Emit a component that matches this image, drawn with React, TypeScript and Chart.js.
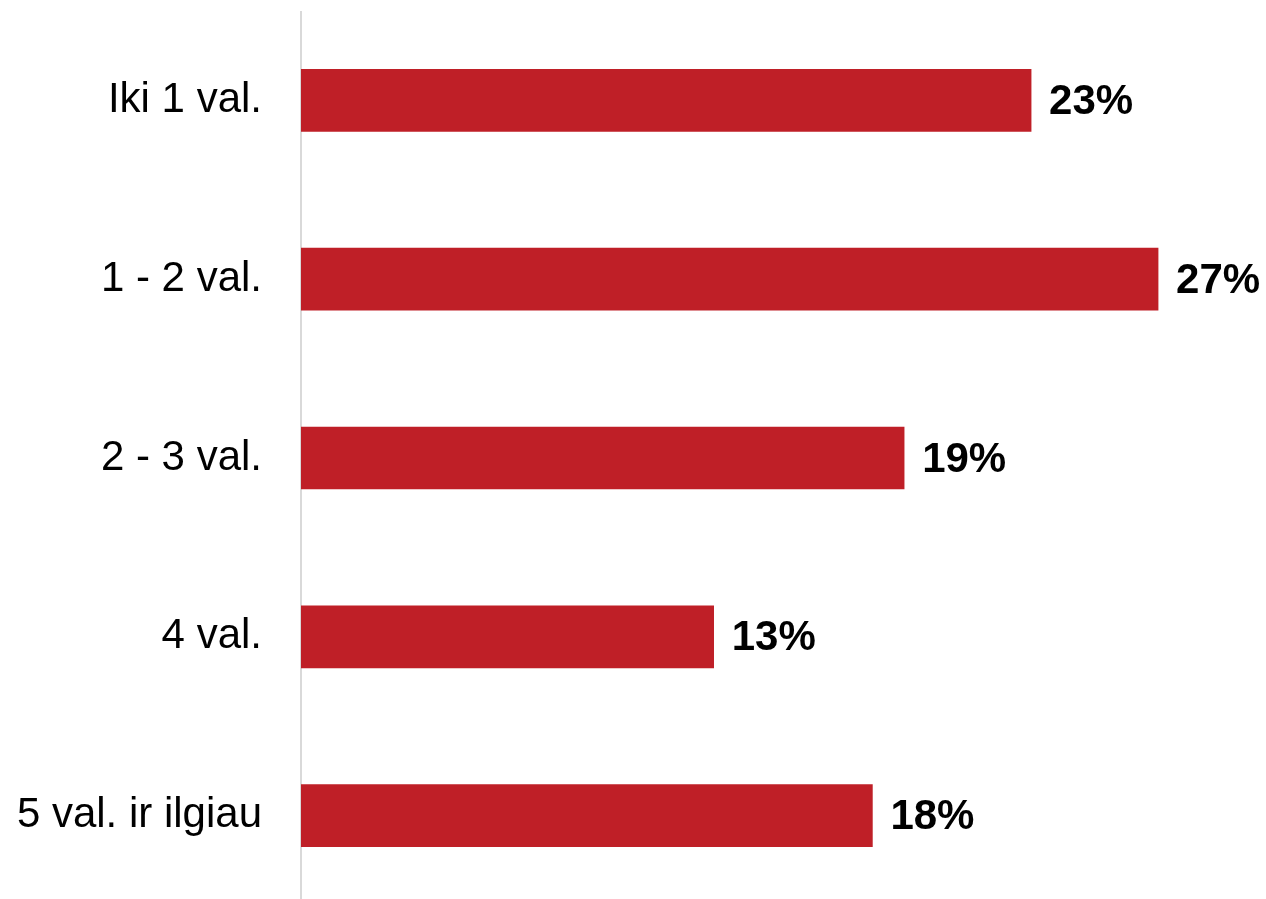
import React, { useEffect, useRef } from "react";
import { Chart, registerables } from "chart.js";

Chart.register(...registerables);

const categories = ["Iki 1 val.", "1 - 2 val.", "2 - 3 val.", "4 val.", "5 val. ir ilgiau"];
const values = [23, 27, 19, 13, 18];
const valueLabels = ["23%", "27%", "19%", "13%", "18%"];

const FONT = "'Liberation Sans', Arial, Helvetica, sans-serif";

// the category band extends slightly past the bottom edge of the picture
const extendAreaPlugin = {
  id: "extendArea",
  afterLayout(chart: any) {
    const y = chart.scales.y;
    const bottom = chart.height + 6;
    y.bottom = bottom;
    y.height = bottom - y.top;
    chart.chartArea.bottom = bottom;
    chart.chartArea.height = bottom - chart.chartArea.top;
    y.configure();
  },
};

const axisLinePlugin = {
  id: "axisLine",
  beforeDatasetsDraw(chart: any) {
    const ctx = chart.ctx;
    const x = chart.chartArea.left;
    ctx.save();
    ctx.strokeStyle = "#D9D9D9";
    ctx.lineWidth = 2;
    ctx.beginPath();
    ctx.moveTo(x, chart.chartArea.top);
    ctx.lineTo(x, chart.height);
    ctx.stroke();
    ctx.restore();
  },
};

const valueLabelPlugin = {
  id: "valueLabels",
  afterDatasetsDraw(chart: any) {
    const ctx = chart.ctx;
    const meta = chart.getDatasetMeta(0);
    ctx.save();
    ctx.font = `bold 42px ${FONT}`;
    ctx.fillStyle = "#000000";
    ctx.textAlign = "left";
    ctx.textBaseline = "middle";
    meta.data.forEach((el: any, i: number) => {
      ctx.fillText(valueLabels[i], el.x + 18, el.y + 2);
    });
    ctx.restore();
  },
};

export default function App() {
  const ref = useRef<HTMLCanvasElement | null>(null);
  useEffect(() => {
    if (!ref.current) return;
    const chart = new Chart(ref.current, {
      type: "bar",
      data: {
        labels: categories,
        datasets: [
          {
            data: values,
            backgroundColor: "#BF1F27",
            barThickness: 62,
            borderWidth: 0,
          },
        ],
      },
      options: {
        indexAxis: "y",
        responsive: false,
        animation: false,
        layout: { padding: { top: 11, right: 0, bottom: 0, left: 0 } },
        plugins: {
          legend: { display: false },
          tooltip: { enabled: false },
        },
        scales: {
          x: {
            display: false,
            min: 0,
            max: 30.4,
          },
          y: {
            afterFit(scale: any) {
              scale.width = 301;
              scale.paddingTop = 0;
              scale.paddingBottom = 0;
            },
            grid: { display: false, drawTicks: false },
            border: { display: false },
            ticks: {
              color: "#000000",
              padding: 39,
              font: { size: 42, family: FONT },
            },
          },
        },
      },
      plugins: [extendAreaPlugin, axisLinePlugin, valueLabelPlugin],
    });
    return () => chart.destroy();
  }, []);
  return (
    <div style={{ position: "absolute", left: 0, top: 0, width: 1266, height: 899, background: "#fff" }}>
      <canvas ref={ref} width={1266} height={899} style={{ display: "block" }} />
    </div>
  );
}
